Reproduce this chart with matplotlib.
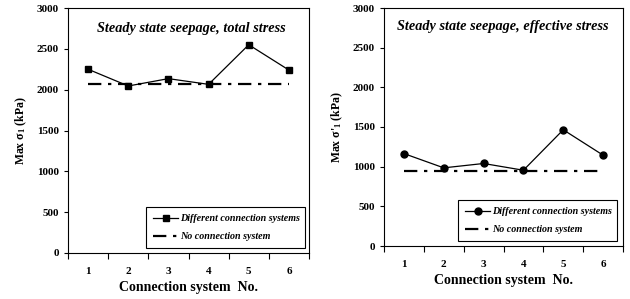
import numpy as np
import matplotlib
matplotlib.use('Agg')
import matplotlib.pyplot as plt

plt.rcParams['font.family'] = 'Liberation Serif'
plt.rcParams['font.weight'] = 'bold'
plt.rcParams['mathtext.fontset'] = 'custom'
plt.rcParams['mathtext.rm'] = 'Liberation Serif:bold'
plt.rcParams['mathtext.bf'] = 'Liberation Serif:bold'
plt.rcParams['mathtext.it'] = 'Liberation Serif:bold'

# номера систем соединения
systems = [1, 2, 3, 4, 5, 6]
# полное напряжение
total = [2250, 2045, 2135, 2065, 2550, 2240]
total_none = 2070
# эффективное напряжение
effective = [1165, 985, 1040, 955, 1465, 1145]
effective_none = 940

titles = ['Steady state seepage, total stress', 'Steady state seepage, effective stress']
ylabels = ['Max σ$_{1}$ (kPa)', "Max σ'$_{1}$ (kPa)"]

fig = plt.figure(figsize=(6.3, 2.99), dpi=100)
W, H = 630, 299
boxes = [(68, 8, 309, 253), (384, 8, 623, 246)]
legboxes = [(146, 200, 305, 248), (458, 194, 617, 241)]
title_pos = [(0.512, 0.918), (0.496, 0.924)]
series = [(total, total_none, 's'), (effective, effective_none, 'o')]

for i in range(2):
    x0, y0, x1, y1 = boxes[i]
    ax = fig.add_axes([x0 / W, 1 - y1 / H, (x1 - x0) / W, (y1 - y0) / H])
    vals, none, mk = series[i]
    ax.plot(systems, vals, color='black', linewidth=0.9, marker=mk, markersize=5,
            label='Different connection systems')
    ax.plot([systems[0], systems[-1]], [none, none], color='black', linewidth=1.6,
            linestyle=(0, (6, 3, 1.5, 3)), label='No connection system')
    ax.set_xlim(0.5, 6.5)
    ax.set_ylim(0, 3000)
    ax.set_yticks(np.arange(0, 3001, 500))
    ax.set_xticks(np.arange(0.5, 6.6, 1))
    ax.set_xticklabels([])
    ax.set_xticks(systems, minor=True)
    ax.set_xticklabels([str(s) for s in systems], minor=True, fontsize=8, fontweight='bold')
    ax.tick_params(axis='x', which='major', direction='out', length=4, width=0.8)
    ax.tick_params(axis='x', which='minor', length=0, pad=10)
    ax.tick_params(axis='y', direction='out', length=3, width=0.8, labelsize=8)
    for lab in ax.get_yticklabels():
        lab.set_fontweight('bold')
    ax.set_xlabel('Connection system  No.', fontsize=10, fontweight='bold', labelpad=4)
    ax.set_ylabel(ylabels[i], fontsize=8.5, fontweight='bold', labelpad=6)
    tx, ty = title_pos[i]
    ax.text(tx, ty, titles[i], transform=ax.transAxes, ha='center', va='center',
            fontsize=10.3, fontstyle='italic', fontweight='bold')
    lx0, ly0, lx1, ly1 = legboxes[i]
    leg = ax.legend(loc='lower left',
                    bbox_to_anchor=((lx0 - x0) / (x1 - x0), (y1 - ly1) / (y1 - y0),
                                    (lx1 - lx0) / (x1 - x0), (ly1 - ly0) / (y1 - y0)),
                    mode='expand', fancybox=False, edgecolor='black', framealpha=1,
                    prop={'size': 7.2, 'style': 'italic', 'weight': 'bold'},
                    handlelength=2.5, handletextpad=0.2, labelspacing=0.9, borderaxespad=0,
                    borderpad=0.7)
    leg.get_frame().set_linewidth(0.8)

fig.savefig('out.png', dpi=100)
